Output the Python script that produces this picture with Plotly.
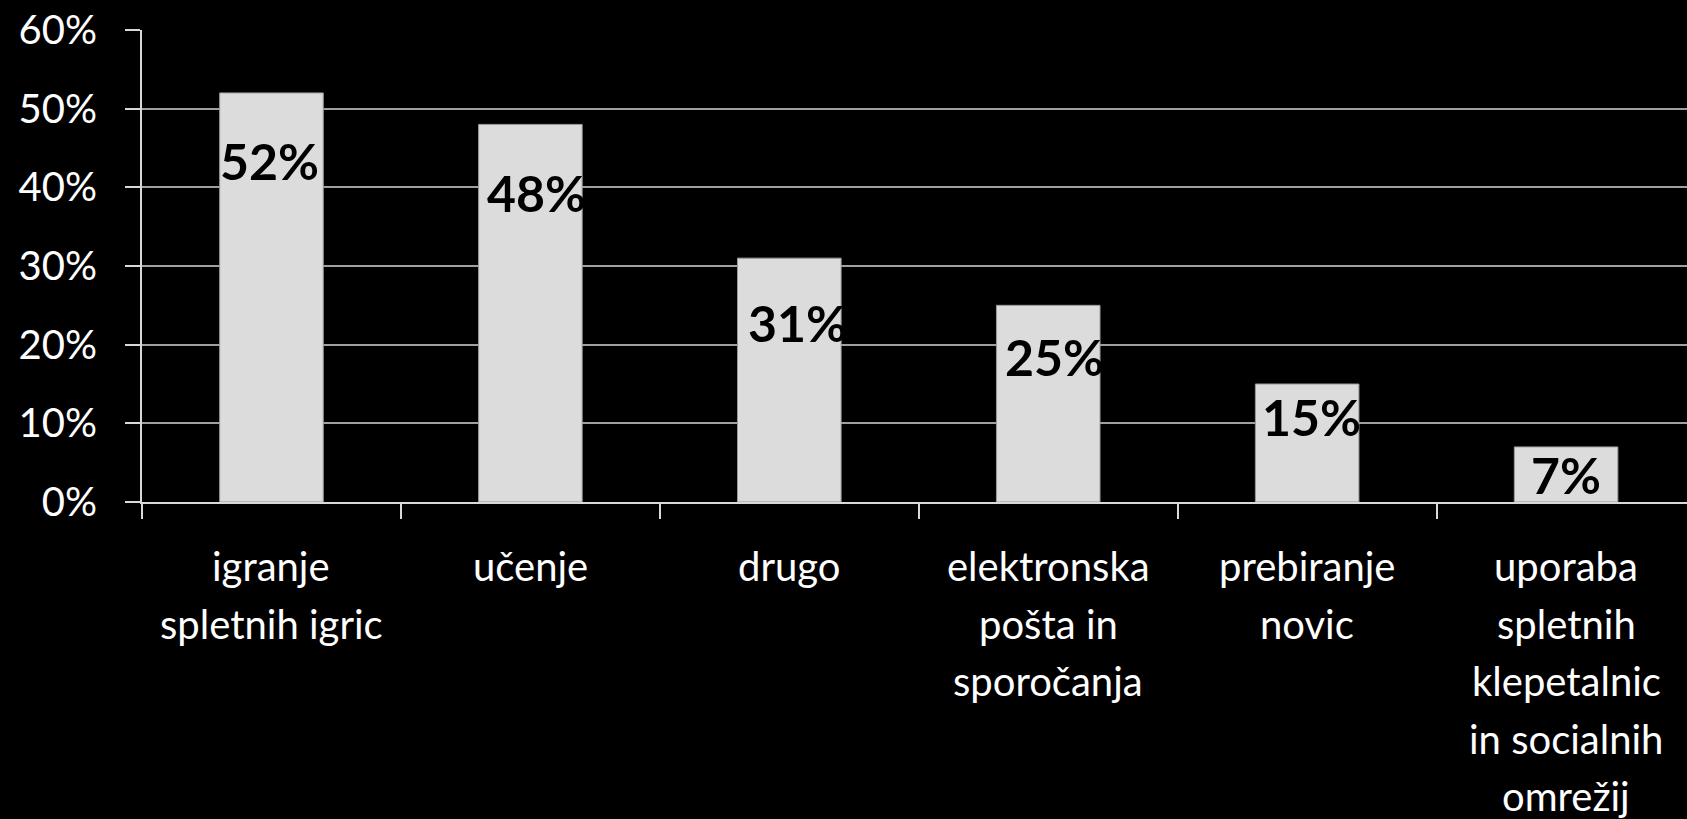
import plotly.graph_objects as go

categories = ["igranje spletnih igric", "učenje", "drugo",
              "elektronska pošta in sporočanja", "prebiranje novic",
              "uporaba spletnih klepetalnic in socialnih omrežij"]
tick_label_lines = [["igranje", "spletnih igric"], ["učenje"], ["drugo"],
                    ["elektronska", "pošta in", "sporočanja"],
                    ["prebiranje", "novic"],
                    ["uporaba", "spletnih", "klepetalnic", "in socialnih", "omrežij"]]
values = [52, 48, 31, 25, 15, 7]
value_labels = ["52%", "48%", "31%", "25%", "15%", "7%"]
y_ticks = [0, 10, 20, 30, 40, 50, 60]
y_tick_labels = ["0%", "10%", "20%", "30%", "40%", "50%", "60%"]

# label placement (pixels below the bar top, horizontal nudge)
label_drop = [68, 69, 65, 52, 33, 28]
label_nudge = [-2, 6, 8, 6, 4, 0]
# category label layout (pixels below the axis)
CAT_FIRST = 64
CAT_STEP = 57.5

FONT = "Lato"

fig = go.Figure()
fig.add_trace(go.Bar(
    x=categories, y=values, width=0.4,
    marker=dict(color="#DCDCDC", line=dict(color="#9A9A9A", width=1)),
    hoverinfo="skip",
))

for c, v, t, d, n in zip(categories, values, value_labels, label_drop, label_nudge):
    fig.add_annotation(x=c, y=v, text=f"<b>{t}</b>", showarrow=False,
                       yanchor="middle", xanchor="center",
                       yshift=-d, xshift=n,
                       font=dict(family=FONT, size=50, color="black"))

for c, lines in zip(categories, tick_label_lines):
    for i, line in enumerate(lines):
        fig.add_annotation(x=c, y=0, text=line, showarrow=False,
                           yanchor="middle", xanchor="center",
                           yshift=-(CAT_FIRST + i * CAT_STEP),
                           font=dict(family=FONT, size=40, color="white"))

fig.update_layout(
    width=1687, height=819,
    paper_bgcolor="black", plot_bgcolor="black",
    margin=dict(l=142, r=0, t=30, b=317),
    showlegend=False,
    bargap=0.6,
)
fig.update_xaxes(
    type="category",
    range=[-0.5, 5.467],
    tickson="boundaries", ticks="outside", ticklen=15, tickwidth=2,
    tickcolor="#D9D9D9",
    showline=True, linecolor="#D9D9D9", linewidth=2,
    showgrid=False, showticklabels=False,
)
fig.update_yaxes(
    range=[0, 60],
    tickmode="array", tickvals=y_ticks, ticktext=y_tick_labels,
    ticks="outside", ticklen=15, tickwidth=2, tickcolor="#D9D9D9",
    showline=True, linecolor="#D9D9D9", linewidth=2,
    showgrid=True, gridcolor="#A0A0A0", gridwidth=2,
    zeroline=False,
    tickfont=dict(family=FONT, size=40, color="white"),
    ticklabelstandoff=20,
)

fig.write_html("out.html",
               config={"displayModeBar": False},
               post_script="document.body.style.margin='0';"
                           "document.body.style.background='black';")
